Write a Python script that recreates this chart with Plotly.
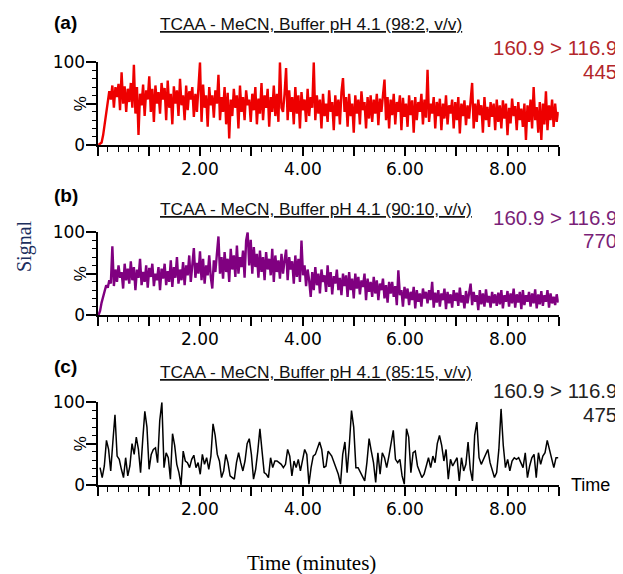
import numpy as np
import plotly.graph_objects as go

# the page body adds an 8 px margin, so the figure is drawn 8 px smaller
VIEW_W, VIEW_H, BODY_MARGIN = 623, 574, 8
W, H = VIEW_W - BODY_MARGIN, VIEW_H - BODY_MARGIN

# ---- data (signal %) ----
a_values = [
    0, 1, 3, 12, 25, 35, 48, 65, 55, 72, 45, 70, 58, 74, 42, 88, 50, 71, 40, 68,
    52, 75, 45, 97, 38, 70, 12, 62, 48, 73, 35, 66, 55, 83, 40, 68, 28, 72, 50, 64,
    38, 75, 55, 69, 30, 78, 45, 62, 25, 71, 50, 66, 35, 80, 48, 60, 30, 72, 42, 65,
    55, 70, 34, 62, 40, 68, 100, 28, 73, 45, 60, 22, 70, 48, 60, 33, 66, 50, 85, 30,
    58, 40, 70, 25, 63, 8, 55, 35, 68, 45, 60, 20, 72, 40, 58, 30, 66, 48, 55, 28,
    62, 42, 70, 25, 56, 38, 75, 30, 60, 45, 68, 22, 58, 40, 72, 35, 62, 28, 100, 45,
    40, 62, 93, 30, 66, 40, 58, 25, 70, 38, 60, 20, 64, 42, 55, 28, 68, 35, 58, 45,
    100, 30, 60, 38, 55, 20, 62, 35, 50, 28, 66, 40, 52, 18, 60, 35, 55, 25, 64, 81,
    40, 58, 22, 62, 35, 50, 15, 60, 38, 55, 25, 65, 42, 52, 20, 58, 32, 60, 28, 55,
    38, 62, 24, 56, 40, 60, 79, 30, 58, 20, 55, 36, 62, 25, 52, 40, 60, 18, 57, 34,
    50, 22, 60, 36, 54, 15, 58, 30, 52, 40, 62, 25, 55, 33, 91, 28, 50, 38, 58, 20,
    52, 35, 56, 18, 50, 32, 60, 25, 48, 38, 55, 20, 52, 30, 58, 14, 50, 35, 54, 24,
    48, 32, 56, 75, 20, 50, 28, 55, 36, 48, 15, 58, 30, 46, 22, 52, 34, 50, 18, 55,
    28, 48, 20, 54, 32, 50, 12, 45, 26, 56, 35, 47, 18, 52, 30, 44, 22, 50, 6, 48,
    28, 55, 20, 70, 30, 46, 15, 52, 6, 50, 25, 65, 18, 48, 30, 55, 22, 50, 28, 40,
]

b_values = [
    0, 5, 15, 22, 30, 36, 33, 42, 38, 83, 35, 55, 40, 60, 45, 52, 32, 62, 42, 56,
    38, 65, 42, 58, 30, 55, 45, 68, 36, 52, 40, 60, 33, 57, 46, 62, 35, 50, 42, 58,
    30, 56, 44, 62, 36, 53, 40, 66, 34, 58, 45, 70, 38, 55, 42, 64, 36, 60, 48, 72,
    40, 60, 81, 45, 63, 50, 77, 42, 68, 38, 60, 48, 72, 46, 32, 66, 52, 74, 95, 50,
    70, 44, 76, 52, 68, 40, 80, 55, 72, 46, 84, 50, 70, 58, 78, 45, 90, 100, 60, 91,
    50, 82, 58, 74, 45, 78, 52, 70, 42, 76, 55, 68, 48, 80, 40, 72, 52, 66, 44, 74,
    50, 66, 79, 42, 70, 55, 65, 38, 72, 46, 68, 40, 90, 48, 60, 35, 55, 42, 22, 52,
    30, 58, 36, 50, 26, 55, 40, 48, 28, 60, 34, 52, 25, 47, 38, 55, 30, 45, 24, 50,
    35, 48, 22, 52, 30, 44, 20, 50, 32, 46, 25, 42, 34, 50, 18, 44, 28, 40, 22, 46,
    26, 42, 18, 38, 30, 44, 20, 36, 15, 40, 26, 40, 22, 35, 12, 54, 24, 30, 10, 34,
    20, 32, 12, 28, 18, 34, 8, 30, 16, 26, 10, 32, 20, 28, 14, 30, 18, 40, 9, 27,
    15, 30, 10, 26, 18, 32, 7, 28, 14, 25, 9, 30, 17, 27, 11, 33, 15, 24, 8, 29,
    14, 26, 38, 12, 28, 16, 24, 6, 30, 13, 26, 10, 31, 15, 23, 9, 28, 14, 25, 11,
    27, 13, 30, 8, 24, 16, 29, 10, 26, 14, 32, 9, 25, 15, 28, 7, 30, 12, 24, 16,
    28, 10, 26, 14, 31, 8, 25, 13, 29, 11, 24, 16, 30, 9, 26, 14, 22, 12, 25, 15,
]

c_values_first = [
    21, 9, 23, 54, 43, 17, 52, 85, 35, 31,
    19, 9, 33, 11, 23, 50, 37, 58, 43, 15,
    54, 89, 70, 19, 37, 43, 45, 27, 78, 100,
    21, 39, 33, 7, 62, 48, 25, 15, 0, 41,
    29, 27, 21, 31, 36, 21, 27, 13, 37, 25,
    33, 19, 35, 74, 60, 37, 29, 9, 17, 37,
    27, 11, 9, 7, 27, 39, 27, 17, 29, 50,
    56, 37, 7, 19, 41, 68, 41, 15, 13, 9,
    33, 21, 29, 29, 27, 25, 21, 25, 43, 35,
    11, 29, 21, 31, 17, 29, 43, 37, 1, 21,
    35, 37, 45, 52, 43, 21, 23, 41,
]
c_values_second = [
    35, 27, 19, 13, 1, 37, 52, 15, 48, 90,
    70, 21, 21, 15, 9, 5, 27, 56, 41, 27,
    3, 39, 13, 39, 33, 21, 35, 52, 66, 31,
    27, 31, 11, 1, 68, 58, 15, 39, 41, 23,
    17, 9, 13, 23, 33, 21, 35, 27, 50, 60,
    48, 29, 43, 7, 31, 23, 29, 33, 5, 33,
    17, 25, 52, 19, 5, 60, 76, 33, 25, 31,
    37, 43, 27, 17, 9, 15, 43, 92, 48, 21,
    31, 17, 29, 33, 31, 33, 27, 21, 39, 9,
    23, 33, 37, 9, 39, 25, 35, 39, 54, 43,
    33, 21, 33, 33,
]

# scan times (minutes)
ab_scan_start, ab_scan_step = 0.02, 0.03
ab_time = ab_scan_start + ab_scan_step * np.arange(len(a_values))
c_time = np.concatenate([
    np.linspace(0.05, 4.50, len(c_values_first)),
    np.linspace(4.57, 8.99, len(c_values_second)),
])
c_values = c_values_first + c_values_second

x_label_values = [2, 4, 6, 8]
x_label_texts = ["2.00", "4.00", "6.00", "8.00"]

titles = [
    "TCAA - MeCN, Buffer pH 4.1 (98:2, v/v)",
    "TCAA - MeCN, Buffer pH 4.1 (90:10, v/v)",
    "TCAA - MeCN, Buffer pH 4.1 (85:15, v/v)",
]
panel_tags = ["(a)", "(b)", "(c)"]
transition = "160.9 > 116.9"
intensities = ["445", "770", "475"]
colors = ["#ee0000", "#800080", "#000000"]
ann_colors = ["#b3262b", "#7a1f78", "#222222"]

# ---- layout geometry (screen pixels -> paper fractions) ----
def px(x):
    return (x - BODY_MARGIN) / W

def py(y):
    return 1 - (y - BODY_MARGIN) / H

x_left, x_right = 97.5, 558.75
panels_px = [(62.3, 145.0), (232.3, 315.0), (402.3, 485.0)]  # (top, bottom)

fig = go.Figure()
series = [(ab_time, a_values), (ab_time, b_values), (c_time, c_values)]
widths = [2.4, 2.4, 1.5]
for i, (t, v) in enumerate(series):
    sfx = "" if i == 0 else str(i + 1)
    fig.add_trace(go.Scatter(
        x=t, y=v, mode="lines", xaxis="x" + sfx, yaxis="y" + sfx,
        line=dict(color=colors[i], width=widths[i]), showlegend=False,
        hoverinfo="skip",
    ))

tick_font = dict(family="DejaVu Sans", size=17, color="#000000")
layout = dict(
    template="none",
    width=W, height=H, margin=dict(l=0, r=0, t=0, b=0, autoexpand=False),
    paper_bgcolor="white", plot_bgcolor="white", showlegend=False,
)
annotations = []
for i, (top, bot) in enumerate(panels_px):
    sfx = "" if i == 0 else str(i + 1)
    layout["xaxis" + sfx] = dict(
        domain=[px(x_left), px(x_right)], range=[0, 9], anchor="y" + sfx,
        showline=True, linecolor="black", linewidth=2, mirror=False, automargin=False,
        ticks="outside", ticklen=9, tickwidth=1.5, tickcolor="black",
        tick0=0, dtick=1, showticklabels=False,
        minor=dict(ticks="outside", tick0=0, dtick=0.2, ticklen=5, tickwidth=1.3, tickcolor="black"),
        showgrid=False, zeroline=False, fixedrange=True,
    )
    layout["yaxis" + sfx] = dict(
        domain=[py(bot), py(top)], range=[0, 100], anchor="x" + sfx,
        showline=True, linecolor="black", linewidth=2, automargin=False,
        ticks="outside", ticklen=10, tickwidth=1.5, tickcolor="black",
        tick0=0, dtick=50, labelalias={"50": " "}, ticklabelstandoff=-3,
        minor=dict(ticks="outside", tick0=0, dtick=10, ticklen=4, tickwidth=1.3, tickcolor="black"),
        showgrid=False, zeroline=False, tickfont=tick_font, fixedrange=True,
    )
    # x tick labels, placed at axis values
    for val, txt in zip(x_label_values, x_label_texts):
        annotations.append(dict(
            x=val, xref="x" + sfx, y=py(bot + 23.5), yref="paper",
            text=txt, showarrow=False, font=tick_font,
            xanchor="center", yanchor="middle",
        ))
    annotations.append(dict(
        x=px(80.5), y=py((top + bot) / 2), xref="paper", yref="paper",
        text="%", textangle=-90, showarrow=False,
        font=dict(family="Liberation Sans", size=17, color="black"),
        xanchor="center", yanchor="middle",
    ))
    tag_y = [23, 195, 366][i]
    annotations.append(dict(
        x=px(52), y=py(tag_y), xref="paper", yref="paper",
        text="<b>" + panel_tags[i] + "</b>", showarrow=False,
        font=dict(family="Liberation Sans", size=19, color="black"),
        xanchor="left", yanchor="middle",
    ))
    title_y = [24, 209, 372][i]
    annotations.append(dict(
        x=px(158), y=py(title_y), xref="paper", yref="paper",
        text="<u>" + titles[i] + "</u>", showarrow=False,
        font=dict(family="Liberation Sans", size=17.3, color="#111111"),
        xanchor="left", yanchor="middle",
    ))
    tr_y = [47.5, 217.5, 390][i]
    in_y = [71.5, 240, 414.5][i]
    annotations.append(dict(
        x=px(619), y=py(tr_y), xref="paper", yref="paper",
        text=transition, showarrow=False,
        font=dict(family="Liberation Sans", size=20.5, color=ann_colors[i]),
        xanchor="right", yanchor="middle",
    ))
    annotations.append(dict(
        x=px(619), y=py(in_y), xref="paper", yref="paper",
        text=intensities[i], showarrow=False,
        font=dict(family="Liberation Sans", size=20.5, color=ann_colors[i]),
        xanchor="right", yanchor="middle",
    ))

annotations.append(dict(
    x=px(569), y=py(485), xref="paper", yref="paper", text="Time", showarrow=False,
    font=dict(family="Liberation Sans", size=18, color="black"),
    xanchor="left", yanchor="middle",
))
annotations.append(dict(
    x=px(24), y=py(246), xref="paper", yref="paper", text="Signal", showarrow=False,
    textangle=-90, font=dict(family="Liberation Serif", size=20, color="#1c2f5e"),
    xanchor="center", yanchor="middle",
))
annotations.append(dict(
    x=px(311), y=py(563), xref="paper", yref="paper", text="Time (minutes)", showarrow=False,
    font=dict(family="Liberation Serif", size=21, color="black"),
    xanchor="center", yanchor="middle",
))
layout["annotations"] = annotations
fig.update_layout(**layout)
fig.write_html("out.html")
